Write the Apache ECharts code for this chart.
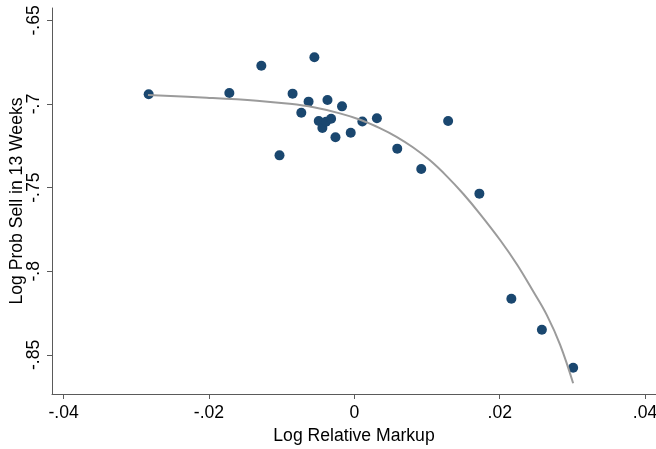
<!DOCTYPE html>
<html>
<head>
<meta charset="utf-8">
<script src="https://cdn.jsdelivr.net/npm/echarts@6/dist/echarts.min.js"></script>
<style>html,body{margin:0;padding:0;background:#fff;}#c{width:656px;height:449px;}</style>
</head>
<body>
<div id="c"></div>
<script>
// Binned scatter: log relative markup vs log prob sell in 13 weeks
const markupX = [-0.0283, -0.0172, -0.0128, -0.0103, -0.0085, -0.0073, -0.0063, -0.0055, -0.0049, -0.0044, -0.0039, -0.0037, -0.0032, -0.0026, -0.0017, -0.0005, 0.0011, 0.0031, 0.0059, 0.0092, 0.0129, 0.0172, 0.0216, 0.0258, 0.0301];
const probY = [-0.6942, -0.6934, -0.6771, -0.7307, -0.6938, -0.7052, -0.6986, -0.6721, -0.7102, -0.7144, -0.7106, -0.6976, -0.7088, -0.7199, -0.7014, -0.7172, -0.7105, -0.7085, -0.7267, -0.7389, -0.7102, -0.7536, -0.8164, -0.8350, -0.8577];
// Fitted curve
const fitX = [-0.0284, -0.0203, -0.0134, -0.0089, -0.0056, -0.0020, 0.0008, 0.0035, 0.0058, 0.0081, 0.0104, 0.0127, 0.0150, 0.0173, 0.0201, 0.0224, 0.0246, 0.0265, 0.0283, 0.0301];
const fitY = [-0.6946, -0.6962, -0.6980, -0.6999, -0.7020, -0.7056, -0.7094, -0.7144, -0.7196, -0.7260, -0.7337, -0.7431, -0.7538, -0.7658, -0.7816, -0.7961, -0.8120, -0.8264, -0.8439, -0.8670];
const xTicks = [-0.04, -0.02, 0, 0.02, 0.04];
const xTickLabels = ['-.04', '-.02', '0', '.02', '.04'];
const yTicks = [-0.85, -0.8, -0.75, -0.7, -0.65];
const yTickLabels = ['-.85', '-.8', '-.75', '-.7', '-.65'];
const xTitle = 'Log Relative Markup';
const yTitle = 'Log Prob Sell in 13 Weeks';

const FONT = '"Liberation Sans", Arial, sans-serif';
const AXIS_COLOR = '#5a5a5a';
function lab(vals, labels) {
  return function (v) {
    for (let i = 0; i < vals.length; i++) if (Math.abs(vals[i] - v) < 1e-9) return labels[i];
    return '';
  };
}
const chart = echarts.init(document.getElementById('c'), null, {renderer: 'canvas'});
chart.setOption({
  animation: false,
  backgroundColor: '#fff',
  grid: {left: 52, right: 0, top: 8, bottom: 55, containLabel: false, outerBoundsMode: 'none'},
  xAxis: {
    type: 'value', min: -0.0416, max: 0.0415,
    name: xTitle, nameLocation: 'middle', nameGap: 33, nameMoveOverlap: false,
    nameTextStyle: {fontFamily: FONT, fontSize: 17.6, color: '#000'},
    axisLine: {show: true, onZero: false, lineStyle: {color: AXIS_COLOR, width: 1}},
    axisTick: {show: true, length: 5, customValues: xTicks, lineStyle: {color: AXIS_COLOR}},
    axisLabel: {customValues: xTicks, formatter: lab(xTicks, xTickLabels), margin: 10, fontFamily: FONT, fontSize: 17.6, color: '#000'},
    splitLine: {show: false}
  },
  yAxis: {
    type: 'value', min: -0.8734, max: -0.6426,
    name: yTitle, nameLocation: 'middle', nameGap: 26, nameRotate: 90, nameMoveOverlap: false,
    nameTextStyle: {fontFamily: FONT, fontSize: 17.6, color: '#000'},
    axisLine: {show: true, onZero: false, lineStyle: {color: AXIS_COLOR, width: 1}},
    axisTick: {show: true, length: 5, customValues: yTicks, lineStyle: {color: AXIS_COLOR}},
    axisLabel: {customValues: yTicks, formatter: lab(yTicks, yTickLabels), rotate: 90, margin: 9, fontFamily: FONT, fontSize: 17.6, color: '#000'},
    splitLine: {show: false}
  },
  series: [
    {
      type: 'scatter', symbol: 'circle', symbolSize: 10,
      itemStyle: {color: '#1a476f', opacity: 1},
      data: markupX.map((x, i) => [x, probY[i]]),
      z: 2
    },
    {
      type: 'line', smooth: 0.4, symbol: 'none',
      lineStyle: {color: '#9b9b9b', width: 2},
      data: fitX.map((x, i) => [x, fitY[i]]),
      z: 3
    }
  ]
});
</script>
</body>
</html>
